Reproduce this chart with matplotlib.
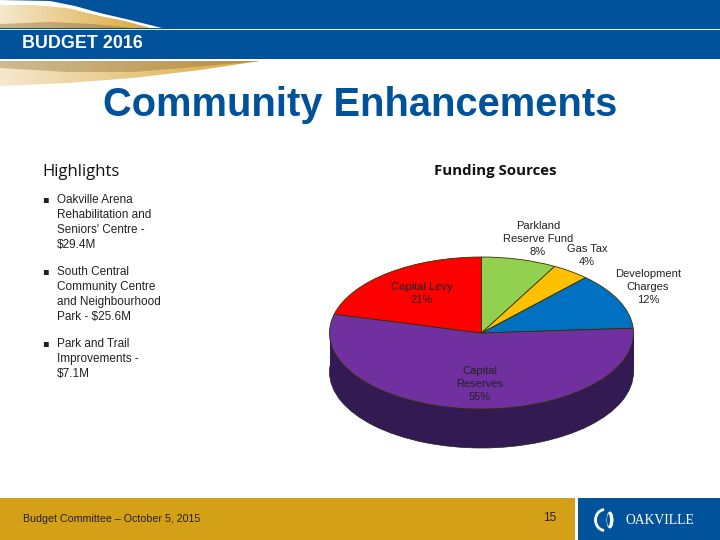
import numpy as np
import matplotlib
matplotlib.use("Agg")
import matplotlib.pyplot as plt
from matplotlib.patches import Polygon, Rectangle, Arc, Ellipse

labels = ["Parkland\nReserve Fund\n8%", "Gas Tax\n4%", "Development\nCharges\n12%", "Capital\nReserves\n55%", "Capital Levy\n21%"]
values = [8, 4, 12, 55, 21]
colors = ["#92D050", "#FFC000", "#0070C0", "#7030A0", "#FF0000"]
label_px = [(538, 239), (587, 255.5), (648, 287), (480, 384), (422, 293.5)]
bullets = [
    ("Oakville Arena\nRehabilitation and\nSeniors' Centre -\n$29.4M", 199.5),
    ("South Central\nCommunity Centre\nand Neighbourhood\nPark - $25.6M", 271.5),
    ("Park and Trail\nImprovements -\n$7.1M", 343.5),
]
BLUE = "#00529B"
W, H = 720, 540
fig = plt.figure(figsize=(7.2, 5.4), dpi=100, facecolor="white")
bg = fig.add_axes([0, 0, 1, 1])
bg.set_xlim(0, W); bg.set_ylim(H, 0); bg.axis("off")

def grad_poly(xs, ys, c0, c1, xend, z=2):
    poly = Polygon(np.column_stack([xs, ys]), closed=True, transform=bg.transData, fc="none", ec="none")
    bg.add_patch(poly)
    c0 = np.array(matplotlib.colors.to_rgb(c0)); c1 = np.array(matplotlib.colors.to_rgb(c1))
    t = np.linspace(0, 1, 256)[None, :, None]
    im = bg.imshow(c0 + (c1 - c0) * t, extent=[0, xend, max(ys), min(ys)], aspect="auto", zorder=z)
    im.set_clip_path(poly)
    bg.set_xlim(0, W); bg.set_ylim(H, 0)

bg.add_patch(Rectangle((0, 0), W, 59, fc=BLUE, ec="none", zorder=1))
grad_poly(np.r_[0, 50, 75, 100, 130, 162, 0], np.r_[0, 1, 6, 13, 20, 28, 28], "#FFFFFF", "#FFFFFF", 162, 2)
grad_poly(np.r_[0, 33, 67, 100, 125, 150, 0], np.r_[5, 5, 8, 16, 21, 28, 28], "#F5E8CC", "#DBA83C", 150, 3)
grad_poly(np.r_[0, 50, 93, 133, 0], np.r_[24, 22, 24, 28, 28], "#C9B78C", "#B98E3E", 133, 4)
bg.add_patch(Rectangle((0, 28.7), W, 1.5, fc="#E8F3F8", ec="none", zorder=5))
bg.add_patch(Rectangle((0, 59), 262, 27, fc="white", ec="none", zorder=1.5))
grad_poly(np.r_[0, 260, 200, 133, 67, 0], np.r_[61, 61, 70, 78, 83, 86], "#F5E8CC", "#DBA83C", 260, 3)
grad_poly(np.r_[0, 260, 183, 133, 67, 0], np.r_[61, 61, 68, 72, 72, 68], "#CDBB92", "#B98E3E", 260, 4)

bg.text(22, 44, "BUDGET 2016", color="white", family="Liberation Sans", weight="bold", fontsize=12.9, va="center", ha="left", zorder=6)
bg.text(360, 104.5, "Community Enhancements", color=BLUE, family="Liberation Sans", weight="bold", fontsize=28.7, va="center", ha="center", zorder=6)
bg.text(42.5, 172, "Highlights", color="#111111", family="Open Sans", weight="medium", fontsize=12, va="center")
bg.text(495, 171, "Funding Sources", color="#111111", family="Open Sans", weight="bold", fontsize=10.8, va="center", ha="center")
for txt, y in bullets:
    bg.text(45, y, "▪", color="#222222", family="DejaVu Sans", fontsize=7, va="center", ha="center")
    bg.text(57, y - 5.5, txt, color="#222222", family="Liberation Sans", fontsize=8.5, va="top", linespacing=1.32)

bg.add_patch(Rectangle((0, 498), 575, 42, fc="#D4A017", ec="none"))
bg.add_patch(Rectangle((578, 498), 142, 42, fc=BLUE, ec="none"))
bg.text(23, 519, "Budget Committee – October 5, 2015", color="#222222", family="Liberation Sans", fontsize=7.7, va="center")
bg.text(550, 518, "15", color="#222222", family="Liberation Sans", fontsize=8.5, va="center", ha="center")
bg.add_patch(Arc((605, 520), 19, 21, theta1=95, theta2=265, ec="white", lw=2))
bg.add_patch(Ellipse((610, 520), 7, 17, fc="white", ec="none"))
bg.add_patch(Ellipse((608.5, 520), 3, 12, fc=BLUE, ec="none"))
bg.text(626, 520, "OAKVILLE", color="white", family="Liberation Serif", fontsize=9.8, va="center", ha="left")

# Pie: tilted, axes sized so one data unit is 152 px wide, 76 px tall
cx, cy, rx, ry, depth = 481.5, 333, 152, 76, 39
left, right = cx - rx - 3, cx + rx + 3
top, bottom = cy - ry - 3, cy + ry + depth + 3
ax = fig.add_axes([left / W, 1 - bottom / H, (right - left) / W, (bottom - top) / H])
ax.patch.set_alpha(0)
d = depth / ry
ax.pie([1], colors=["#331A52"], radius=1, center=(0, -d), wedgeprops=dict(edgecolor="#222222", linewidth=0.5))
ax.add_patch(Rectangle((-1, -d), 2, d, fc="#331A52", ec="none"))
ax.pie(values, colors=colors, startangle=90, counterclock=False, radius=1, center=(0, 0),
       wedgeprops=dict(edgecolor="#333300", linewidth=0.6))
ax.set_aspect("auto")
ax.set_xlim((left - cx) / rx, (right - cx) / rx)
ax.set_ylim((cy - bottom) / ry, (cy - top) / ry)
ax.axis("off")

for lab, (x, y) in zip(labels, label_px):
    fig.text(x / W, 1 - y / H, lab, color="#222222", family="Liberation Sans", fontsize=8, ha="center", va="center", linespacing=1.32, zorder=20)

fig.savefig("out.png", dpi=100)
